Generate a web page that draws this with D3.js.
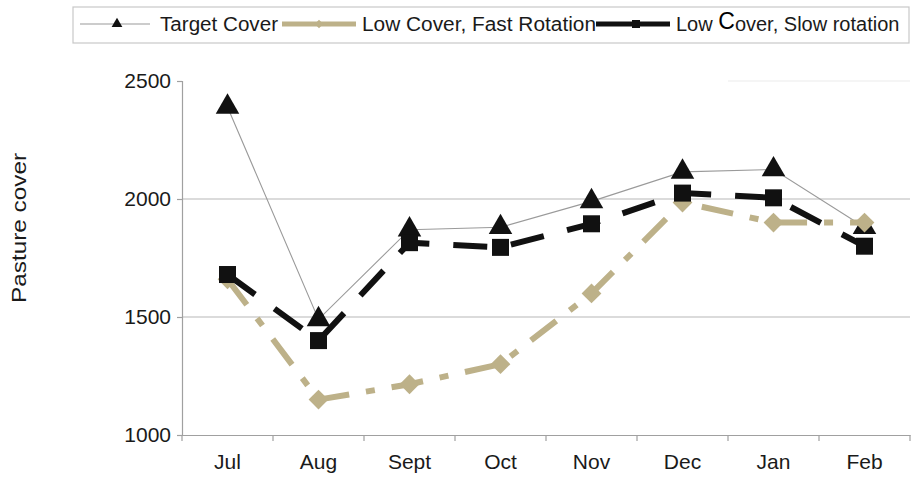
<!DOCTYPE html>
<html><head><meta charset="utf-8">
<script src="https://cdn.jsdelivr.net/npm/d3@7"></script>
<style>body{margin:0;background:#fff}svg{display:block;font-family:"Liberation Sans",Arial,sans-serif}</style>
</head><body><svg id="c" width="911" height="486"></svg>
<script>
const months = ["Jul","Aug","Sept","Oct","Nov","Dec","Jan","Feb"];
const targetCover = [2390,1490,1870,1880,1990,2115,2125,1880];
const fastRotation = [1660,1150,1215,1300,1600,1985,1900,1900];
const slowRotation = [1680,1400,1815,1795,1895,2025,2005,1800];
const yTicks = [1000,1500,2000,2500];
const seriesNames = ["Target Cover","Low Cover, Fast Rotation","Low Cover, Slow rotation"];

const svg = d3.select("#c");
const x = d3.scaleBand().domain(months).range([182,910]);
const y = d3.scaleLinear().domain([1000,2500]).range([435,81]);
const cx = d => x(d) + x.bandwidth()/2;

// gridlines
svg.append("g").selectAll("line").data([1500,2000]).join("line")
  .attr("x1",182).attr("x2",910).attr("y1",d=>y(d)).attr("y2",d=>y(d))
  .attr("stroke","#b8b8b8").attr("stroke-width",1.2);
svg.append("line").attr("x1",728).attr("x2",910).attr("y1",y(2500)).attr("y2",y(2500))
  .attr("stroke","#ececec").attr("stroke-width",1.2);

// y axis
const ya = svg.append("g").attr("transform","translate(182,0)")
  .call(d3.axisLeft(y).tickValues(yTicks).tickSize(5).tickPadding(6).tickFormat(d3.format("d")));
ya.select(".domain").attr("stroke","#a0a0a0").attr("stroke-width",1.2);
ya.selectAll(".tick line").attr("stroke","#a0a0a0").attr("stroke-width",1.2);
ya.selectAll("text").attr("font-size",21).attr("fill","#1a1a1a").attr("font-family","Liberation Sans, Arial, sans-serif");

// x axis
const xa = svg.append("g").attr("transform","translate(0,435)")
  .call(d3.axisBottom(x).tickSize(0).tickPadding(19));
xa.select(".domain").attr("stroke","#a0a0a0").attr("stroke-width",1.2);
xa.selectAll("text").attr("font-size",21).attr("fill","#1a1a1a").attr("font-family","Liberation Sans, Arial, sans-serif");
const bounds = months.map(m=>x(m)).concat([x.range()[1]]);
svg.append("g").selectAll("line").data(bounds).join("line")
  .attr("x1",d=>d).attr("x2",d=>d).attr("y1",435).attr("y2",441)
  .attr("stroke","#a0a0a0").attr("stroke-width",1.2);

// y label
svg.append("text").attr("transform","translate(26,228) rotate(-90)")
  .attr("text-anchor","middle").attr("font-size",21).attr("fill","#1a1a1a")
  .attr("textLength",150).attr("lengthAdjust","spacingAndGlyphs").text("Pasture cover");

const line = d3.line().x((d,i)=>cx(months[i])).y(d=>y(d));
const tan = "#bdb189";

// target
svg.append("path").datum(targetCover).attr("d",line).attr("fill","none")
  .attr("stroke","#9a9a9a").attr("stroke-width",1.1);
const tri = d3.symbol().type(d3.symbolTriangle).size(240);
svg.append("g").selectAll("path").data(targetCover).join("path")
  .attr("d",tri).attr("transform",(d,i)=>`translate(${cx(months[i])},${y(d)})`)
  .attr("fill","#111");

// fast
svg.append("path").datum(fastRotation).attr("d",line).attr("fill","none")
  .attr("stroke",tan).attr("stroke-width",6).attr("stroke-dasharray","32,17,9,17");
svg.append("g").selectAll("rect").data(fastRotation).join("rect")
  .attr("x",-7).attr("y",-7).attr("width",14).attr("height",14)
  .attr("transform",(d,i)=>`translate(${cx(months[i])},${y(d)}) rotate(45)`)
  .attr("fill",tan);

// slow
svg.append("path").datum(slowRotation).attr("d",line).attr("fill","none")
  .attr("stroke","#111").attr("stroke-width",6).attr("stroke-dasharray","34,24");
svg.append("g").selectAll("rect").data(slowRotation).join("rect")
  .attr("x",d=>0).attr("width",17).attr("height",17)
  .attr("transform",(d,i)=>`translate(${cx(months[i])-8.5},${y(d)-8.5})`)
  .attr("fill","#111");

// legend
const lg = svg.append("g");
lg.append("rect").attr("x",73).attr("y",7).attr("width",836).attr("height",36)
  .attr("fill","#fff").attr("stroke","#c8c8c8").attr("stroke-width",1.2);
const ly = 24;
lg.append("line").attr("x1",80).attr("x2",150).attr("y1",ly).attr("y2",ly).attr("stroke","#9a9a9a").attr("stroke-width",1.1);
lg.append("path").attr("d",d3.symbol().type(d3.symbolTriangle).size(50)).attr("transform",`translate(117,${ly})`).attr("fill","#111");
lg.append("text").attr("x",160).attr("y",31).attr("font-size",20).attr("fill","#1a1a1a")
  .attr("textLength",118).attr("lengthAdjust","spacingAndGlyphs").text(seriesNames[0]);
lg.append("line").attr("x1",282).attr("x2",356).attr("y1",ly).attr("y2",ly).attr("stroke",tan).attr("stroke-width",5);
lg.append("rect").attr("x",-3).attr("y",-3).attr("width",6).attr("height",6).attr("transform",`translate(319,${ly}) rotate(45)`).attr("fill",tan);
lg.append("text").attr("x",362).attr("y",31).attr("font-size",20).attr("fill","#1a1a1a")
  .attr("textLength",234).attr("lengthAdjust","spacingAndGlyphs").text(seriesNames[1]);
lg.append("line").attr("x1",596).attr("x2",670).attr("y1",ly).attr("y2",ly).attr("stroke","#111").attr("stroke-width",5);
lg.append("rect").attr("x",632).attr("y",ly-4).attr("width",8).attr("height",8).attr("fill","#111");
const t3 = lg.append("text").attr("x",676).attr("y",31).attr("font-size",20).attr("fill","#1a1a1a");
const parts = seriesNames[2].split(/(C)/);
t3.append("tspan").text(parts[0]);
t3.append("tspan").attr("font-size",23).attr("dy",-2).attr("fill","#000").text(parts[1]);
t3.append("tspan").attr("dy",2).text(parts.slice(2).join(""));
</script></body></html>
